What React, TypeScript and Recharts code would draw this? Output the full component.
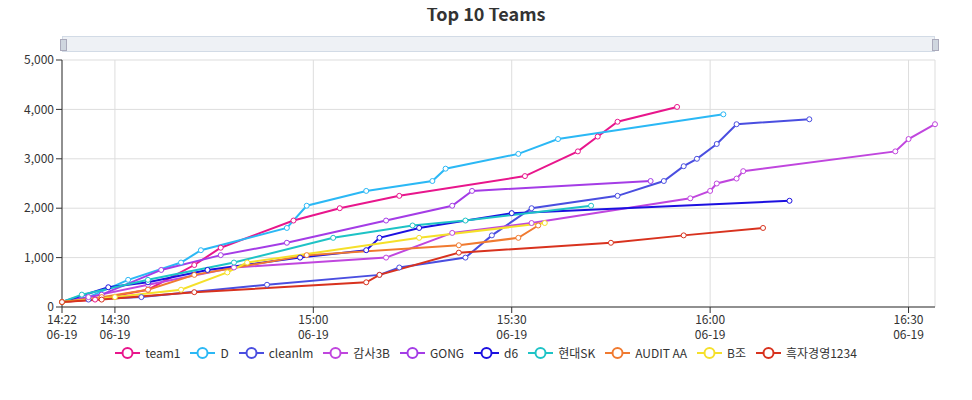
import React from 'react';
import { LineChart, Line, XAxis, YAxis, CartesianGrid } from 'recharts';

type P = [string, number];

const team1: P[] = [['14:22', 100], ['14:27', 150], ['14:35', 350], ['14:42', 850], ['14:46', 1200], ['14:57', 1750], ['15:04', 2000], ['15:13', 2250], ['15:32', 2650], ['15:40', 3150], ['15:43', 3450], ['15:46', 3750], ['15:55', 4050]];
const D: P[] = [['14:22', 100], ['14:26', 200], ['14:32', 550], ['14:40', 900], ['14:43', 1150], ['14:56', 1600], ['14:59', 2050], ['15:08', 2350], ['15:18', 2550], ['15:20', 2800], ['15:31', 3100], ['15:37', 3400], ['16:02', 3900]];
const cleanlm: P[] = [['14:22', 100], ['14:26', 150], ['14:34', 200], ['14:53', 450], ['15:10', 650], ['15:13', 800], ['15:23', 1000], ['15:27', 1450], ['15:33', 2000], ['15:46', 2250], ['15:53', 2550], ['15:56', 2850], ['15:58', 3000], ['16:01', 3300], ['16:04', 3700], ['16:15', 3800]];
const gamsa3B: P[] = [['14:22', 100], ['14:26', 200], ['14:35', 450], ['14:48', 800], ['15:11', 1000], ['15:21', 1500], ['15:33', 1700], ['15:57', 2200], ['16:00', 2350], ['16:01', 2500], ['16:04', 2600], ['16:05', 2750], ['16:28', 3150], ['16:30', 3400], ['16:34', 3700]];
const GONG: P[] = [['14:22', 100], ['14:28', 250], ['14:37', 750], ['14:46', 1050], ['14:56', 1300], ['15:11', 1750], ['15:21', 2050], ['15:24', 2350], ['15:51', 2550]];
const d6: P[] = [['14:22', 100], ['14:29', 400], ['14:35', 500], ['14:44', 750], ['14:58', 1000], ['15:08', 1150], ['15:10', 1400], ['15:16', 1600], ['15:30', 1900], ['16:12', 2150]];
const hyundaiSK: P[] = [['14:22', 100], ['14:25', 250], ['14:35', 550], ['14:48', 900], ['15:03', 1400], ['15:15', 1650], ['15:23', 1750], ['15:42', 2050]];
const auditAA: P[] = [['14:22', 100], ['14:28', 200], ['14:35', 350], ['14:42', 650], ['14:59', 1050], ['15:22', 1250], ['15:31', 1400], ['15:34', 1650]];
const Bjo: P[] = [['14:22', 100], ['14:30', 200], ['14:40', 350], ['14:47', 700], ['14:50', 900], ['15:16', 1400], ['15:35', 1700]];
const heukja: P[] = [['14:22', 100], ['14:28', 150], ['14:42', 300], ['15:08', 500], ['15:10', 650], ['15:22', 1100], ['15:45', 1300], ['15:56', 1450], ['16:08', 1600]];

const seriesNames = ['team1', 'D', 'cleanlm', '감사3B', 'GONG', 'd6', '현대SK', 'AUDIT AA', 'B조', '흑자경영1234'];
const seriesData = [team1, D, cleanlm, gamsa3B, GONG, d6, hyundaiSK, auditAA, Bjo, heukja];
const colors = ['#e8168c', '#2bb8f5', '#4a4ee0', '#c046de', '#a43ce6', '#1c10e0', '#1ec3c6', '#f07a30', '#f5e02a', '#d8321e'];

const xTicks = ['14:22', '14:30', '15:00', '15:30', '16:00', '16:30'];
const yTicks = [0, 1000, 2000, 3000, 4000, 5000];

const toMin = (s: string) => {
  const [h, m] = s.split(':').map(Number);
  return (h - 14) * 60 + m;
};
const fmt = (v: number) => {
  const h = 14 + Math.floor(v / 60);
  const m = v % 60;
  return `${h}:${m < 10 ? '0' : ''}${m}`;
};

const FONT = '"Noto Sans CJK KR", "Noto Sans", sans-serif';

const XTick = (props: any) => {
  const { x, y, payload } = props;
  return (
    <text x={x} y={y + 9} textAnchor="middle" fontSize={12} fill="#333" fontFamily={FONT}>
      <tspan x={x} dy={0}>{fmt(payload.value)}</tspan>
      <tspan x={x} dy={15}>06-19</tspan>
    </text>
  );
};

export default function App() {
  return (
    <div style={{ position: 'relative', width: 972, height: 400, margin: -8, fontFamily: FONT, background: '#fff' }}>
      <LineChart width={972} height={400} margin={{ top: 60, right: 37, bottom: 58, left: 2 }}>
        <CartesianGrid stroke="#ddd" />
        <XAxis type="number" dataKey="t" domain={[22, 154]} ticks={xTicks.map(toMin)} tick={<XTick />} axisLine={{ stroke: '#333' }} tickLine={{ stroke: '#333' }} height={35} allowDuplicatedCategory={false} />
        <YAxis type="number" domain={[0, 5000]} ticks={yTicks} width={60} tickFormatter={(v: number) => v.toLocaleString('en-US')} tick={{ fontSize: 12, fill: '#333' }} axisLine={{ stroke: '#333' }} tickLine={{ stroke: '#333' }} />
        {seriesData.map((d, i) => (
          <Line key={seriesNames[i]} name={seriesNames[i]} data={d.map(([t, v]) => ({ t: toMin(t), v }))} dataKey="v" stroke={colors[i]} strokeWidth={2} dot={{ r: 2.5, fill: '#fff', stroke: colors[i], strokeWidth: 1 }} isAnimationActive={false} />
        ))}
      </LineChart>
      <div style={{ position: 'absolute', top: 1, left: 0, width: '100%', textAlign: 'center', fontSize: 18, fontWeight: 'bold', color: '#333', lineHeight: '24px' }}>Top 10 Teams</div>
      <div style={{ position: 'absolute', left: 62, top: 36, width: 873, height: 16, border: '1px solid #d2dbe6', background: '#eef1f5', boxSizing: 'border-box' }} />
      <div style={{ position: 'absolute', left: 60, top: 39, width: 5, height: 10, background: '#cfd6df', border: '1px solid #aab' }} />
      <div style={{ position: 'absolute', left: 932, top: 39, width: 5, height: 10, background: '#cfd6df', border: '1px solid #aab' }} />
      <div style={{ position: 'absolute', top: 344, width: '100%', display: 'flex', justifyContent: 'center', gap: 10, fontSize: 12, color: '#333' }}>
        {seriesNames.map((n, i) => (
          <div key={n} style={{ display: 'flex', alignItems: 'center', gap: 5 }}>
            <svg width={25} height={14}>
              <line x1={0} y1={7} x2={25} y2={7} stroke={colors[i]} strokeWidth={2} />
              <circle cx={12.5} cy={7} r={5} fill="#fff" stroke={colors[i]} strokeWidth={2} />
            </svg>
            <span>{n}</span>
          </div>
        ))}
      </div>
    </div>
  );
}
